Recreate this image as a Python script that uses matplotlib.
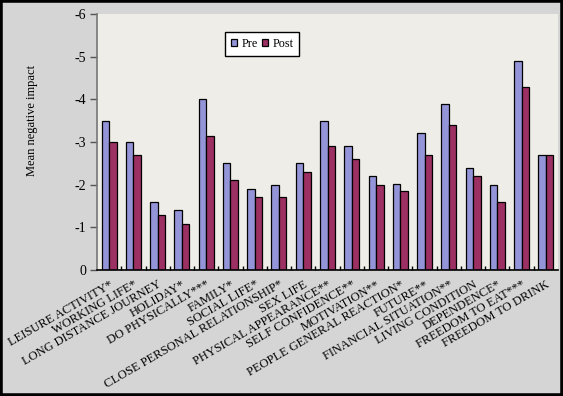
import matplotlib
matplotlib.use("Agg")
import matplotlib.pyplot as plt
import numpy as np
from matplotlib.patches import Rectangle

plt.rcParams['font.family'] = 'serif'
plt.rcParams['font.serif'] = ['Liberation Serif', 'DejaVu Serif']
plt.rcParams['axes.unicode_minus'] = False

# data
categories = ["LEISURE ACTIVITY*", "WORKING LIFE*", "LONG DISTANCE JOURNEY", "HOLIDAY*",
              "DO PHYSICALLY***", "FAMILY*", "SOCIAL LIFE*", "CLOSE PERSONAL RELATIONSHIP*",
              "SEX LIFE", "PHYSICAL APPEARANCE**", "SELF CONFIDENCE**", "MOTIVATION**",
              "PEOPLE GENERAL REACTION*", "FUTURE**", "FINANCIAL SITUATION**",
              "LIVING CONDITION", "DEPENDENCE*", "FREEDOM TO EAT***", "FREEDOM TO DRINK"]
pre = [-3.5, -3.0, -1.6, -1.4, -4.0, -2.5, -1.9, -2.0, -2.5, -3.5, -2.9, -2.2,
       -2.02, -3.2, -3.9, -2.4, -2.0, -4.9, -2.7]
post = [-3.0, -2.7, -1.3, -1.07, -3.15, -2.1, -1.7, -1.7, -2.3, -2.9, -2.6, -2.0,
        -1.85, -2.7, -3.4, -2.2, -1.6, -4.3, -2.7]
yticks = [0, -1, -2, -3, -4, -5, -6]

pre_color = '#9494d8'
post_color = '#9c3062'

fig = plt.figure(figsize=(5.63, 3.96), dpi=100, facecolor='#d5d5d5')
ax = fig.add_axes([97/563, 126/396, 461/563, 256/396])
ax.set_facecolor('#eeede7')

n = len(categories)
x = np.arange(n)
w = 0.31
ax.bar(x - w/2, pre, w, color=pre_color, edgecolor='black', linewidth=0.9, label='Pre')
ax.bar(x + w/2, post, w, color=post_color, edgecolor='black', linewidth=0.9, label='Post')

ax.set_xlim(-0.5, n - 0.5)
ax.set_ylim(0, -6)
ax.set_yticks(yticks)
ax.set_yticklabels([str(v) for v in yticks], fontsize=10)
ax.tick_params(axis='y', direction='out', length=5, width=1, color='#555555', pad=3)

ax.set_xticks(x)
ax.set_xticklabels(categories, rotation=30, ha='right', va='top',
                   rotation_mode='anchor', fontsize=9)
ax.tick_params(axis='x', which='major', length=0, pad=6)
ax.set_xticks(x[:-1] + 0.5, minor=True)
ax.tick_params(axis='x', which='minor', direction='in', length=3, width=1, color='black')

for s in ['top', 'right']:
    ax.spines[s].set_visible(False)
ax.spines['left'].set_color('#777777')
ax.spines['left'].set_linewidth(1.2)
ax.spines['bottom'].set_color('black')
ax.spines['bottom'].set_linewidth(1.2)

fig.text(32/563, 1 - 120/396, 'Mean negative impact', rotation=90,
         ha='center', va='center', fontsize=9)

leg = ax.legend(loc='upper left', bbox_to_anchor=(0.278, 0.93), ncol=2,
                fancybox=False, framealpha=1, edgecolor='black', fontsize=8.7,
                handlelength=0.5, handleheight=0.5, handletextpad=0.35,
                columnspacing=0.35, borderpad=0.5, borderaxespad=0)
leg.get_frame().set_linewidth(1.0)

fig.patches.append(Rectangle((0, 0), 1, 1, transform=fig.transFigure, fill=False,
                             edgecolor='black', linewidth=4, zorder=10))

fig.savefig('out.png', dpi=100, facecolor=fig.get_facecolor())
